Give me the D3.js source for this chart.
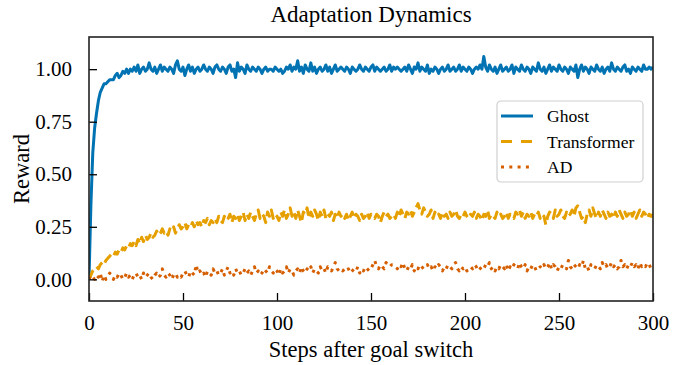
<!DOCTYPE html>
<html>
<head>
<meta charset="utf-8">
<script src="https://cdn.jsdelivr.net/npm/d3@7"></script>
<style>
  body { margin: 0; background: #fff; }
  text { font-family: "Liberation Serif", "Times New Roman", serif; fill: #000; }
</style>
</head>
<body>
<div id="chart"></div>
<script>
// reward per step after the goal switch
const ghost = [
  0.00, 0.35, 0.60, 0.72, 0.79, 0.85, 0.89, 0.91, 0.93, 0.93, 0.94, 0.95, 0.95, 0.95, 0.97, 0.98, 0.96, 0.97, 0.99, 0.98, 1.00,
  0.98, 1.00, 0.99, 1.01, 0.99, 1.02, 0.98, 1.00, 1.01, 0.99, 1.00, 1.03, 1.00, 0.99, 1.01, 0.98, 1.00, 1.02, 0.99, 1.01,
  1.00, 0.99, 1.01, 1.00, 0.98, 1.02, 1.04, 1.00, 0.99, 1.01, 0.97, 1.00, 1.02, 0.99, 1.01, 0.98, 1.00, 1.01, 0.99, 1.00,
  1.02, 1.00, 0.99, 1.01, 1.00, 0.98, 1.01, 1.02, 1.00, 0.99, 1.01, 1.00, 0.98, 1.01, 1.02, 0.99, 1.00, 0.96, 1.03, 0.99,
  1.01, 1.00, 0.98, 1.02, 1.00, 0.99, 1.01, 1.00, 0.99, 1.01, 1.00, 0.98, 1.00, 1.01, 0.99, 1.00, 1.00, 0.99, 1.01, 1.00,
  0.99, 1.00, 0.98, 0.99, 1.01, 1.00, 1.02, 0.99, 1.01, 1.00, 1.04, 0.99, 1.01, 0.98, 1.02, 1.00, 0.99, 1.03, 0.99, 1.01,
  0.98, 1.00, 1.01, 0.99, 1.00, 1.02, 0.99, 1.01, 0.98, 1.00, 1.02, 0.99, 1.00, 1.01, 1.00, 0.99, 1.01, 1.00, 0.98, 1.01,
  1.00, 0.99, 1.00, 1.02, 1.00, 0.99, 1.01, 1.00, 0.99, 1.01, 1.02, 0.99, 1.01, 1.00, 0.99, 1.00, 1.01, 0.99, 1.00, 1.02,
  0.99, 1.01, 1.00, 1.01, 1.00, 0.99, 1.00, 1.01, 0.99, 1.02, 1.00, 0.98, 1.01, 1.00, 1.03, 0.99, 1.01, 1.00, 0.99, 1.02,
  0.98, 1.00, 0.99, 1.01, 1.00, 0.98, 1.00, 1.01, 0.99, 1.00, 1.02, 0.99, 1.00, 1.01, 0.99, 1.00, 1.02, 0.99, 1.01, 1.00,
  0.99, 1.01, 1.00, 0.98, 1.00, 1.01, 1.00, 1.02, 1.00, 1.06, 1.01, 0.99, 1.02, 1.00, 0.99, 1.01, 0.98, 1.00, 1.02, 0.99,
  1.00, 1.01, 0.99, 1.00, 1.02, 0.98, 1.01, 1.00, 0.99, 1.02, 1.00, 0.99, 1.01, 1.00, 0.98, 1.01, 1.00, 0.99, 1.03, 1.00,
  0.99, 1.01, 0.98, 1.00, 1.02, 0.99, 1.01, 1.00, 0.99, 1.02, 1.00, 0.99, 1.01, 1.00, 0.98, 1.01, 1.00, 0.99, 1.02, 0.96,
  1.00, 1.02, 0.99, 1.01, 1.00, 0.98, 1.01, 1.00, 0.99, 1.02, 1.00, 0.99, 1.01, 0.98, 1.00, 1.01, 0.99, 1.03, 1.00, 0.99,
  1.01, 1.00, 0.99, 1.01, 1.02, 0.99, 1.00, 0.98, 1.01, 1.00, 0.99, 1.01, 1.00, 0.99, 1.02, 1.00, 1.00, 1.01, 1.00, 1.01
];

const transformer = [
  0.00, 0.02, 0.04, 0.05, 0.06, 0.05, 0.07, 0.08, 0.07, 0.09, 0.10,
  0.11, 0.12, 0.11, 0.13, 0.12, 0.14, 0.13, 0.15, 0.14, 0.16,
  0.15, 0.17, 0.16, 0.18, 0.16, 0.19, 0.17, 0.20, 0.18, 0.21,
  0.19, 0.20, 0.22, 0.20, 0.21, 0.23, 0.21, 0.22, 0.24, 0.22,
  0.23, 0.21, 0.24, 0.23, 0.25, 0.22, 0.24, 0.26, 0.24, 0.25,
  0.27, 0.24, 0.26, 0.25, 0.27, 0.25, 0.28, 0.26, 0.27, 0.25,
  0.28, 0.27, 0.29, 0.26, 0.28, 0.27, 0.29, 0.27, 0.30, 0.28,
  0.27, 0.30, 0.28, 0.29, 0.31, 0.27, 0.30, 0.29, 0.31, 0.28,
  0.30, 0.32, 0.28, 0.31, 0.29, 0.32, 0.30, 0.28, 0.31, 0.33,
  0.29, 0.31, 0.30, 0.27, 0.32, 0.30, 0.33, 0.29, 0.31, 0.30,
  0.28, 0.32, 0.30, 0.33, 0.29, 0.31, 0.34, 0.30, 0.32, 0.29,
  0.33, 0.30, 0.27, 0.32, 0.31, 0.34, 0.29, 0.32, 0.30, 0.33,
  0.31, 0.28, 0.32, 0.30, 0.33, 0.29, 0.31, 0.30, 0.32, 0.28,
  0.31, 0.29, 0.32, 0.30, 0.31, 0.29, 0.31, 0.28, 0.30, 0.32,
  0.29, 0.31, 0.30, 0.28, 0.31, 0.29, 0.30, 0.32, 0.29, 0.31,
  0.30, 0.29, 0.31, 0.30, 0.27, 0.30, 0.32, 0.30, 0.31, 0.29,
  0.30, 0.31, 0.29, 0.32, 0.30, 0.33, 0.31, 0.29, 0.32, 0.31,
  0.33, 0.30, 0.32, 0.34, 0.36, 0.33, 0.31, 0.34, 0.32, 0.30,
  0.31, 0.33, 0.29, 0.32, 0.30, 0.31, 0.29, 0.32, 0.30, 0.31,
  0.29, 0.32, 0.30, 0.31, 0.33, 0.30, 0.29, 0.31, 0.30, 0.32,
  0.30, 0.29, 0.31, 0.30, 0.32, 0.29, 0.31, 0.30, 0.28, 0.31,
  0.30, 0.33, 0.29, 0.31, 0.30, 0.29, 0.32, 0.30, 0.31, 0.29,
  0.30, 0.32, 0.29, 0.31, 0.30, 0.29, 0.32, 0.31, 0.33, 0.30,
  0.32, 0.29, 0.31, 0.30, 0.32, 0.29, 0.31, 0.30, 0.32, 0.29,
  0.31, 0.30, 0.26, 0.30, 0.32, 0.31, 0.29, 0.33, 0.30, 0.31,
  0.33, 0.30, 0.29, 0.32, 0.30, 0.31, 0.33, 0.30, 0.34, 0.35,
  0.32, 0.29, 0.30, 0.27, 0.31, 0.33, 0.30, 0.34, 0.31, 0.29,
  0.32, 0.30, 0.33, 0.31, 0.29, 0.32, 0.30, 0.31, 0.29, 0.32,
  0.30, 0.33, 0.31, 0.29, 0.32, 0.30, 0.31, 0.33, 0.30, 0.32,
  0.29, 0.31, 0.33, 0.30, 0.32, 0.31, 0.29, 0.31, 0.30, 0.31
];

const ad = [
  0.00, 0.02, 0.01, 0.00, 0.02, 0.01, 0.03, -0.01, 0.02, 0.00,
  0.01, 0.03, 0.02, 0.00, 0.02, 0.01, 0.03, 0.02, 0.00, 0.01,
  0.03, 0.01, 0.02, 0.00, 0.02, 0.03, 0.01, 0.02, 0.00, 0.03,
  0.01, 0.02, 0.03, 0.01, 0.00, 0.02, 0.03, 0.01, 0.02, 0.05,
  0.02, 0.01, 0.03, 0.02, 0.00, 0.02, 0.03, 0.01, 0.02, 0.01,
  0.03, 0.04, 0.02, 0.01, 0.04, 0.03, 0.02, 0.07, 0.03, 0.04,
  0.02, 0.03, 0.01, 0.04, 0.03, 0.02, 0.05, 0.03, 0.04, 0.02,
  0.03, 0.05, 0.02, 0.04, 0.06, 0.03, 0.04, 0.02, 0.05, 0.03,
  0.04, 0.02, 0.03, 0.05, 0.03, 0.04, 0.02, 0.04, 0.06, 0.03,
  0.04, 0.02, 0.03, 0.05, 0.04, 0.03, 0.06, 0.04, 0.03, 0.05,
  0.04, 0.02, 0.05, 0.03, 0.04, 0.06, 0.03, 0.05, 0.04, 0.02,
  0.04, 0.05, 0.03, 0.06, 0.04, 0.03, 0.05, 0.04, 0.06, 0.03,
  0.05, 0.04, 0.03, 0.06, 0.04, 0.05, 0.03, 0.06, 0.05, 0.04,
  0.06, 0.08, 0.05, 0.04, 0.05, 0.04, 0.05, 0.04, 0.05, 0.03,
  0.04, 0.05, 0.04, 0.06, 0.03, 0.05, 0.04, 0.06, 0.05, 0.04,
  0.05, 0.07, 0.09, 0.06, 0.05, 0.07, 0.06, 0.05, 0.08, 0.07,
  0.06, 0.07, 0.07, 0.06, 0.05, 0.07, 0.06, 0.08, 0.05, 0.04,
  0.06, 0.05, 0.07, 0.04, 0.06, 0.05, 0.07, 0.06, 0.05, 0.06,
  0.07, 0.05, 0.06, 0.04, 0.06, 0.05, 0.07, 0.06, 0.04, 0.06,
  0.05, 0.07, 0.06, 0.05, 0.07, 0.08, 0.05, 0.04, 0.06, 0.05,
  0.06, 0.04, 0.05, 0.06, 0.05, 0.07, 0.06, 0.04, 0.05, 0.06,
  0.05, 0.07, 0.06, 0.08, 0.05, 0.06, 0.04, 0.06, 0.05, 0.07,
  0.06, 0.05, 0.07, 0.04, 0.06, 0.05, 0.07, 0.06, 0.05, 0.08,
  0.06, 0.05, 0.07, 0.04, 0.06, 0.05, 0.07, 0.06, 0.04, 0.05,
  0.06, 0.05, 0.07, 0.05, 0.06, 0.08, 0.05, 0.07, 0.06, 0.04,
  0.06, 0.05, 0.07, 0.06, 0.05, 0.09, 0.06, 0.05, 0.07, 0.06,
  0.05, 0.07, 0.06, 0.09, 0.05, 0.06, 0.04, 0.07, 0.06, 0.05,
  0.07, 0.06, 0.05, 0.08, 0.06, 0.07, 0.05, 0.06, 0.08, 0.06,
  0.07, 0.05, 0.06, 0.09, 0.06, 0.07, 0.05, 0.07, 0.06, 0.08,
  0.06, 0.07, 0.05, 0.08, 0.06, 0.07, 0.06, 0.08, 0.07, 0.05,
  0.06
];

const xTicks = [0, 50, 100, 150, 200, 250, 300];
const yTicks = [0, 0.25, 0.5, 0.75, 1.0];

const seriesNames = ["Ghost", "Transformer", "AD"];
const seriesColors = ["#0173b2", "#e5a000", "#d55e00"];

const W = 694, H = 365;
const margin = { top: 37, right: 41, bottom: 64, left: 89 };
const innerW = W - margin.left - margin.right;
const innerH = H - margin.top - margin.bottom;

const svg = d3.select("#chart").append("svg")
    .attr("width", W)
    .attr("height", H);

const x = d3.scaleLinear().domain([0, 300]).range([0, innerW]);
const y = d3.scaleLinear().domain([-0.103, 1.153]).range([innerH, 0]);

const g = svg.append("g").attr("transform", `translate(${margin.left},${margin.top})`);

g.append("clipPath").attr("id", "clip")
  .append("rect").attr("width", innerW).attr("height", innerH);

// the three curves
const line = d3.line()
    .x((d, i) => x(i))
    .y(d => y(d));

const styles = [
  { width: 3, dash: null },
  { width: 3, dash: "10,5" },
  { width: 3, dash: "3,5" }
];

const plot = g.append("g").attr("clip-path", "url(#clip)");
[ghost, transformer, ad].forEach((vals, k) => {
  plot.append("path")
    .datum(vals)
    .attr("fill", "none")
    .attr("stroke", seriesColors[k])
    .attr("stroke-width", styles[k].width)
    .attr("stroke-dasharray", styles[k].dash)
    .attr("stroke-linejoin", "round")
    .attr("d", line);
});

// axes, ticks pointing inward
const xAxis = g.append("g")
    .attr("transform", `translate(0,${innerH})`)
    .call(d3.axisBottom(x).tickValues(xTicks).tickSize(-8).tickPadding(14).tickFormat(d3.format("d")));

const yAxis = g.append("g")
    .call(d3.axisLeft(y).tickValues(yTicks).tickSize(-8).tickPadding(17).tickFormat(d3.format(".2f")));

[xAxis, yAxis].forEach(a => {
  a.select(".domain").remove();
  a.selectAll(".tick line").attr("stroke", "#000").attr("stroke-width", 1.3);
  a.selectAll(".tick text").attr("font-size", 21).attr("font-family", "Liberation Serif");
});

// frame
g.append("rect")
    .attr("width", innerW)
    .attr("height", innerH)
    .attr("fill", "none")
    .attr("stroke", "#222")
    .attr("stroke-width", 1.6);

// title and labels
svg.append("text")
    .attr("x", margin.left + innerW / 2)
    .attr("y", 22)
    .attr("text-anchor", "middle")
    .attr("font-size", 23)
    .text("Adaptation Dynamics");

svg.append("text")
    .attr("x", margin.left + innerW / 2)
    .attr("y", 357)
    .attr("text-anchor", "middle")
    .attr("font-size", 22.5)
    .text("Steps after goal switch");

svg.append("text")
    .attr("transform", `translate(29,${margin.top + innerH / 2}) rotate(-90)`)
    .attr("text-anchor", "middle")
    .attr("font-size", 22.5)
    .text("Reward");

// legend
const legend = svg.append("g").attr("transform", "translate(497,101)");
legend.append("rect")
    .attr("width", 146)
    .attr("height", 81)
    .attr("rx", 4)
    .attr("fill", "#fff")
    .attr("fill-opacity", 0.85)
    .attr("stroke", "#d0d0d0")
    .attr("stroke-width", 1.2);

seriesNames.forEach((name, k) => {
  const yy = 15 + k * 25.5;
  legend.append("line")
    .attr("x1", 4).attr("x2", 36)
    .attr("y1", yy).attr("y2", yy)
    .attr("stroke", seriesColors[k])
    .attr("stroke-width", styles[k].width)
    .attr("stroke-dasharray", k === 1 ? "11,9" : k === 2 ? "3,5.3" : null);
  legend.append("text")
    .attr("x", 50)
    .attr("y", yy + 6)
    .attr("font-size", 17.6)
    .text(name);
});
</script>
</body>
</html>
